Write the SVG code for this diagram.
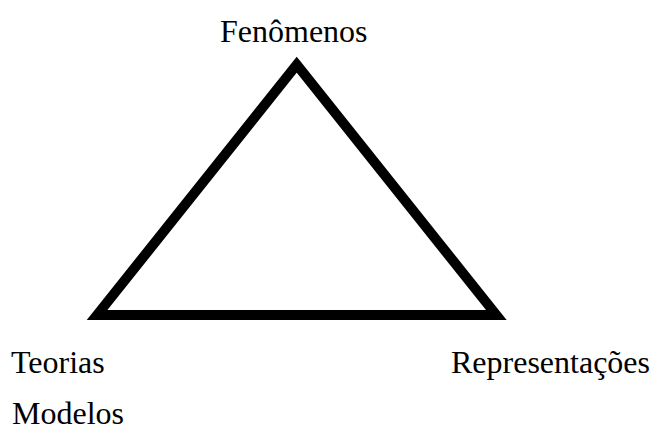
<svg xmlns="http://www.w3.org/2000/svg" width="650" height="430" viewBox="0 0 650 430">
<style>
text{font-family:"Liberation Serif","Times New Roman",serif;font-size:32px;fill:#000}
.tri{fill:none;stroke:#000;stroke-width:10;stroke-linejoin:miter}
</style>
<rect width="650" height="430" fill="#fff"/>
<g id="connectors">
<polygon class="tri" points="296.7,64.7 496.3,315 97.1,315"/>
</g>
<g id="fenomenos"><text x="220" y="42">Fenômenos</text></g>
<g id="teorias"><text x="11" y="372.5">Teorias</text></g>
<g id="modelos"><text x="12" y="424">Modelos</text></g>
<g id="representacoes"><text x="451" y="372.5">Representações</text></g>
</svg>
